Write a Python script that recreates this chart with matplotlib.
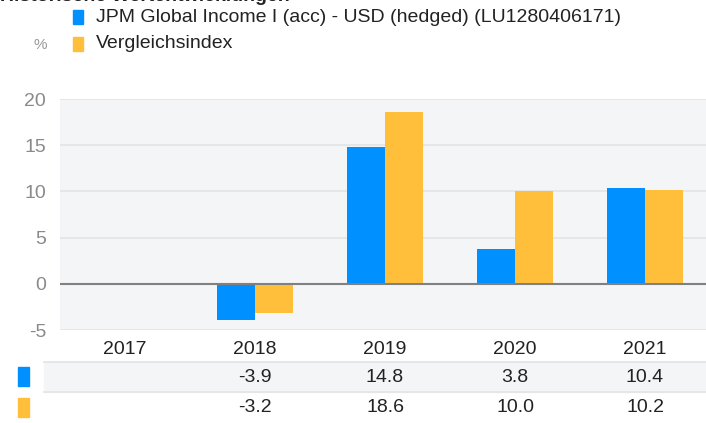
import matplotlib.pyplot as plt
import numpy as np

# data
years = ["2017", "2018", "2019", "2020", "2021"]
fund = [np.nan, -3.9, 14.8, 3.8, 10.4]
index = [np.nan, -3.2, 18.6, 10.0, 10.2]
fund_labels = ["", "-3.9", "14.8", "3.8", "10.4"]
index_labels = ["", "-3.2", "18.6", "10.0", "10.2"]
series_names = ["JPM Global Income I (acc) - USD (hedged) (LU1280406171)", "Vergleichsindex"]
title = "Historische Wertentwicklungen"

blue = "#0090ff"
orange = "#ffbf3a"
fnt = ["Liberation Sans Narrow", "Liberation Sans", "DejaVu Sans"]
plt.rcParams["font.family"] = fnt

W, H = 706, 423
fig = plt.figure(figsize=(W / 100, H / 100), dpi=100)

def fy(py):
    return 1 - py / H

# main chart
ax = fig.add_axes([60 / W, fy(330), 1 - 60 / W, 231 / H])
ax.set_facecolor("#f4f5f7")
x = np.arange(len(years))
w = 0.29
ax.bar(x - w / 2, fund, w, color=blue, zorder=3)
ax.bar(x + w / 2, index, w, color=orange, zorder=3)
ax.set_xlim(-0.5, (706 - 125) / 130)
ax.set_ylim(-5, 20)
ax.set_yticks([-5, 0, 5, 10, 15, 20])
ax.set_yticklabels(["-5", "0", "5", "10", "15", "20"])
ax.set_xticks([])
ax.tick_params(axis="y", length=0, pad=10, labelsize=14, labelcolor="#8a8a8a")
for v in [-5, 5, 10, 15, 20]:
    ax.axhline(v, color="#e2e3e6", lw=1.2, zorder=1)
ax.axhline(0, color="#808080", lw=1.5, zorder=4)
for s in ax.spines.values():
    s.set_visible(False)

# table below
tab = fig.add_axes([0, 0, 1, 93 / H])
tab.set_xlim(-125 / 130, 581 / 130)
tab.set_ylim(H, 330)
tab.axis("off")
tab.axhspan(362, 392, xmin=44 / W, xmax=1, color="#f4f5f7", zorder=0)
for yl in [362, 392]:
    tab.axhline(yl, xmin=44 / W, xmax=1, color="#e2e3e6", lw=1.2)
for i, yr in enumerate(years):
    tab.text(i, 349, yr, ha="center", va="center", fontsize=14, color="#222222")
    tab.text(i, 377, fund_labels[i], ha="center", va="center", fontsize=14, color="#222222")
    tab.text(i, 407, index_labels[i], ha="center", va="center", fontsize=14, color="#222222")
tab.add_patch(plt.Rectangle((-0.82, 367), 11 / 130, 19, color=blue))
tab.add_patch(plt.Rectangle((-0.82, 398), 11 / 130, 19, color=orange))

# legend and title
fig.text(0.0, fy(5), title, fontsize=14, fontweight="bold", color="#222222", va="bottom")
fig.patches.append(plt.Rectangle((73 / W, fy(24)), 10 / W, 14 / H, color=blue, transform=fig.transFigure))
fig.patches.append(plt.Rectangle((73 / W, fy(51)), 10 / W, 14 / H, color=orange, transform=fig.transFigure))
fig.text(96 / W, fy(17), series_names[0], fontsize=14, color="#222222", va="center")
fig.text(96 / W, fy(44), series_names[1], fontsize=14, color="#222222", va="center")
fig.text(33 / W, fy(45), "%", fontsize=11, color="#999999", va="center")

fig.savefig("out.png", dpi=100)
